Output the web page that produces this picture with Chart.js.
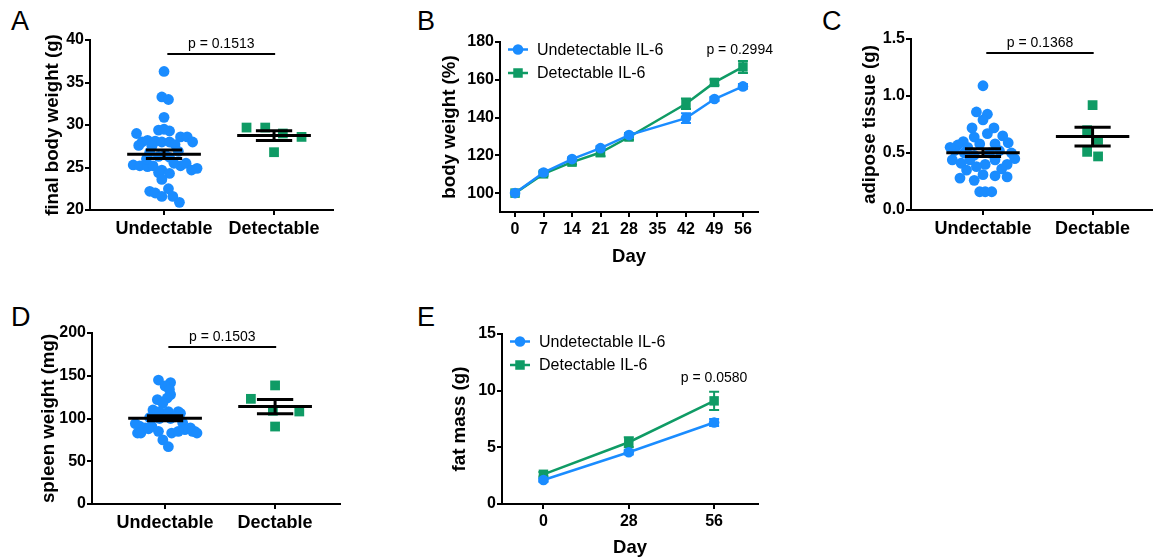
<!DOCTYPE html>
<html>
<head>
<meta charset="utf-8">
<script src="https://cdn.jsdelivr.net/npm/chart.js@4.4.0/dist/chart.umd.min.js"></script>
<style>
  body { margin: 0; background: #fff; width: 1159px; height: 559px; position: relative; overflow: hidden;
         font-family: 'Liberation Sans', Arial, sans-serif; }
  canvas { position: absolute; }
  .tag { position: absolute; font-size: 27px; line-height: 1; color: #000; }
</style>
</head>
<body>
<div class="tag" style="left:11px;top:8px">A</div>
<div class="tag" style="left:417px;top:8px">B</div>
<div class="tag" style="left:822px;top:8px">C</div>
<div class="tag" style="left:11px;top:304px">D</div>
<div class="tag" style="left:417px;top:304px">E</div>

<canvas id="chartA" width="299" height="230" style="left:42px;top:15px"></canvas>
<canvas id="chartB" width="335" height="253" style="left:439px;top:15px"></canvas>
<canvas id="chartC" width="300" height="230" style="left:859px;top:15px"></canvas>
<canvas id="chartD" width="310" height="234" style="left:38px;top:305px"></canvas>
<canvas id="chartE" width="320" height="254" style="left:449px;top:305px"></canvas>

<script>
const FONT = "'Liberation Sans', Arial, sans-serif";
const BLUE = '#1a8cff';
const GREEN = '#0f9b65';

// A - final body weight (g)
const groupsA = ['Undectable', 'Detectable'];
const weightUndet = [36.3, 33.3, 33.0, 30.9, 29.0, 29.4, 29.3, 29.5, 28.0, 28.2, 28.1, 28.0, 28.0, 28.6, 28.6,
  28.0, 27.6, 27.5, 27.7, 26.8, 26.5, 26.9, 26.3, 26.2, 25.3, 25.2, 25.1, 25.2, 25.2, 25.5, 24.7, 24.9,
  24.7, 24.3, 25.5, 24.4, 23.6, 22.2, 22.0, 22.5, 21.6, 21.6, 20.9, 26.0];
const weightUndetJitter = [0, -0.02, 0.04, 0, -0.25, -0.05, 0.05, 0, -0.2, -0.15, -0.08, -0.02, 0.05, 0.15, 0.21,
  0.26, -0.23, -0.11, 0.1, -0.13, 0.01, 0.13, -0.05, 0.05, -0.28, -0.22, -0.15, -0.1, 0.15, 0.2, 0.25, 0.3,
  -0.02, 0.05, 0.09, -0.05, -0.02, -0.13, -0.08, 0.04, -0.02, 0.08, 0.14, -0.16];
const weightDet = [29.7, 29.7, 29.0, 28.6, 26.8];
const weightDetJitter = [-0.25, -0.08, 0.08, 0.25, 0];
const weightMean = [26.55, 28.76];
const weightSem = [0.5, 0.57];
const weightTicks = [20, 25, 30, 35, 40];

// B - body weight (%) over time
const bwDays = [0, 7, 14, 21, 28, 42, 49, 56];
const bwDayTicks = [0, 7, 14, 21, 28, 35, 42, 49, 56];
const bwUndet = [100, 110.9, 118.0, 123.8, 130.7, 139.7, 149.8, 156.5];
const bwDet = [100, 110.2, 116.4, 121.5, 129.7, 147.3, 158.6, 166.8];
const bwUndetSem = [0, 0.8, 0.9, 1.0, 1.0, 2.6, 1.1, 1.2];
const bwDetSem = [0, 1.0, 1.2, 2.0, 1.5, 2.8, 1.5, 3.2];
const bwTicks = [100, 120, 140, 160, 180];

// C - adipose tissue (g)
const groupsC = ['Undectable', 'Dectable'];
const adiposeUndet = [1.09, 0.86, 0.84, 0.79, 0.72, 0.72, 0.67, 0.65, 0.64, 0.60, 0.57, 0.59, 0.55, 0.58, 0.58,
  0.44, 0.41, 0.45, 0.40, 0.35, 0.36, 0.28, 0.26, 0.31, 0.30, 0.29, 0.16, 0.16, 0.16,
  0.52, 0.48, 0.50, 0.52, 0.44, 0.40, 0.44, 0.50, 0.38, 0.50, 0.55];
const adiposeUndetJitter = [0, -0.06, 0.04, 0, -0.1, 0.1, 0.04, 0.18, -0.08, -0.18, -0.23, 0.23, -0.14, -0.03, 0.11,
  -0.28, -0.2, 0.29, 0.22, -0.15, 0.17, -0.21, -0.08, 0, 0.11, 0.22, -0.03, 0.02, 0.08,
  -0.26, -0.08, 0.06, 0.15, -0.12, 0.02, 0.11, -0.17, -0.06, 0.26, -0.3];
const adiposeDet = [0.92, 0.70, 0.615, 0.51, 0.47];
const adiposeDetJitter = [0, -0.05, 0.05, -0.05, 0.05];
const adiposeMean = [0.503, 0.644];
const adiposeSem = [0.034, 0.082];
const adiposeTicks = [0, 0.5, 1.0, 1.5];

// D - spleen weight (mg)
const spleenUndet = [145, 142, 138, 134, 128, 122, 124, 118, 110, 108, 108, 108, 106, 101, 100, 100, 102,
  94, 91, 89, 91, 95, 89, 85, 87, 83, 83, 85, 83, 85, 85, 83, 75, 67, 88];
const spleenUndetJitter = [-0.06, 0.05, 0, 0.04, 0.05, -0.07, 0.02, -0.02, -0.11, -0.05, 0.03, 0.12, 0.14, -0.14,
  0.05, -0.05, 0.09, -0.27, -0.23, -0.18, -0.12, 0.16, 0.23, 0.27, 0.18, -0.25, -0.22, -0.06, 0.06, 0.12,
  0.25, 0.29, -0.02, 0.03, -0.15];
const spleenDet = [138.7, 123, 109, 108.2, 90.6];
const spleenDetJitter = [0, -0.22, -0.02, 0.22, 0];
const spleenMean = [100.4, 113.9];
const spleenSem = [2.9, 8.3];
const spleenTicks = [0, 50, 100, 150, 200];

// E - fat mass (g)
const fatDays = [0, 28, 56];
const fatUndet = [2.12, 4.57, 7.19];
const fatDet = [2.62, 5.45, 9.1];
const fatUndetSem = [0.15, 0.2, 0.3];
const fatDetSem = [0.2, 0.45, 0.8];
const fatTicks = [0, 5, 10, 15];

const seriesLabels = ['Undetectable IL-6', 'Detectable IL-6'];

// mean/SEM bars, p-value brackets, error bars and legend
const extras = {
  id: 'extras',
  beforeDatasetsDraw(chart, args, o) {
    if (!o.errors) return;
    const {ctx, scales: {x, y}} = chart;
    ctx.save();
    ctx.lineWidth = 2;
    chart.data.datasets.forEach((ds, i) => {
      ctx.strokeStyle = ds.borderColor;
      ds.data.forEach((p, j) => {
        const e = o.errors[i][j];
        if (!e) return;
        const px = x.getPixelForValue(p.x);
        const hi = y.getPixelForValue(p.y + e), lo = y.getPixelForValue(p.y - e);
        ctx.beginPath();
        ctx.moveTo(px, hi); ctx.lineTo(px, lo);
        ctx.moveTo(px - 5, hi); ctx.lineTo(px + 5, hi);
        ctx.moveTo(px - 5, lo); ctx.lineTo(px + 5, lo);
        ctx.stroke();
      });
    });
    ctx.restore();
  },
  afterDatasetsDraw(chart, args, o) {
    const {ctx, scales: {x, y}, chartArea: a} = chart;
    ctx.save();
    ctx.strokeStyle = '#000';
    if (o.means) {
      ctx.lineWidth = 3;
      o.means.forEach((m, i) => {
        const c = i + 1, s = o.sems[i];
        const ym = y.getPixelForValue(m), yh = y.getPixelForValue(m + s), yl = y.getPixelForValue(m - s);
        ctx.beginPath();
        ctx.moveTo(x.getPixelForValue(c - 0.335), ym); ctx.lineTo(x.getPixelForValue(c + 0.335), ym);
        ctx.moveTo(x.getPixelForValue(c - 0.165), yh); ctx.lineTo(x.getPixelForValue(c + 0.165), yh);
        ctx.moveTo(x.getPixelForValue(c - 0.165), yl); ctx.lineTo(x.getPixelForValue(c + 0.165), yl);
        ctx.moveTo(x.getPixelForValue(c), yh); ctx.lineTo(x.getPixelForValue(c), yl);
        ctx.stroke();
      });
    }
    ctx.fillStyle = '#000';
    ctx.font = '14px ' + FONT;
    ctx.textAlign = 'center';
    ctx.textBaseline = 'middle';
    if (o.bracket) {
      const by = y.getPixelForValue(o.bracket.y);
      const x1 = x.getPixelForValue(1.03), x2 = x.getPixelForValue(2.01);
      ctx.lineWidth = 2;
      ctx.beginPath(); ctx.moveTo(x1, by); ctx.lineTo(x2, by); ctx.stroke();
      ctx.fillText(o.bracket.text, (x1 + x2) / 2, by - 10);
    }
    if (o.pLabel) {
      ctx.fillText(o.pLabel.text, x.getPixelForValue(o.pLabel.x), y.getPixelForValue(o.pLabel.y));
    }
    if (o.legend) {
      ctx.font = '16px ' + FONT;
      ctx.textAlign = 'left';
      chart.data.datasets.forEach((ds, i) => {
        const ly = a.top + 7.5 + i * 23.5, lx = a.left + 8;
        ctx.strokeStyle = ds.borderColor; ctx.fillStyle = ds.borderColor; ctx.lineWidth = 2.5;
        ctx.beginPath(); ctx.moveTo(lx, ly); ctx.lineTo(lx + 20, ly); ctx.stroke();
        ctx.beginPath();
        if (ds.pointStyle === 'rect') ctx.rect(lx + 5.25, ly - 4.75, 9.5, 9.5);
        else ctx.arc(lx + 10, ly, 5.3, 0, Math.PI * 2);
        ctx.fill();
        ctx.fillStyle = '#000';
        ctx.fillText(ds.label, lx + 29, ly + 1);
      });
    }
    ctx.restore();
  }
};

const axisLine = {
  border: {display: true, color: '#000', width: 2},
  grid: {drawOnChartArea: false, color: '#000', lineWidth: 2, tickLength: 5}
};

function yAxis(min, max, ticks, title, width, fmt) {
  return {
    type: 'linear', min, max, ...axisLine,
    afterBuildTicks: s => { s.ticks = ticks.map(v => ({value: v})); },
    afterFit: s => { s.width = width; },
    ticks: {color: '#000', padding: 1, font: {family: FONT, size: 16, weight: 'bold'}, callback: fmt || (v => v)},
    title: {display: true, text: title, color: '#000', padding: 0, font: {family: FONT, size: 18.7, weight: 'bold'}}
  };
}

function xAxis(min, max, ticks, height, fmt, size, title) {
  return {
    type: 'linear', min, max, ...axisLine,
    afterBuildTicks: s => { s.ticks = ticks.map(v => ({value: v})); },
    afterFit: s => { s.height = height; },
    ticks: {color: '#000', padding: 3, autoSkip: false, maxRotation: 0,
            font: {family: FONT, size: size, weight: 'bold'}, callback: fmt || (v => v)},
    title: {display: !!title, text: title || '', color: '#000', padding: 0,
            font: {family: FONT, size: 18.5, weight: 'bold'}}
  };
}

const pts = (vals, jit, cat) => vals.map((v, i) => ({x: cat + jit[i], y: v}));
const line = (days, vals) => days.map((d, i) => ({x: d, y: vals[i]}));

function scatterPanel(id, c) {
  new Chart(document.getElementById(id), {
    type: 'scatter',
    data: {datasets: [
      {data: pts(c.undet, c.undetJit, 1), pointBackgroundColor: BLUE, pointBorderWidth: 0,
       pointRadius: 5.4, pointStyle: 'circle'},
      {data: pts(c.det, c.detJit, 2), pointBackgroundColor: GREEN, pointBorderWidth: 0,
       pointRadius: 6.9, pointStyle: 'rect'}
    ]},
    options: {
      responsive: false, animation: false, events: [],
      layout: {padding: {top: c.padTop, right: c.padRight, left: 0, bottom: 0}},
      plugins: {legend: {display: false}, tooltip: {enabled: false},
        extras: {means: c.mean, sems: c.sem, bracket: {y: c.bracketY, text: c.p}}},
      scales: {
        x: xAxis(c.xMin, c.xMax, [1, 2], 35, v => c.groups[v - 1], 18),
        y: yAxis(c.yMin, c.yMax, c.yTicks, c.title, c.yWidth, c.fmt)
      }
    },
    plugins: [extras]
  });
}

function linePanel(id, c) {
  const ds = (label, days, vals, color, style, r) => ({
    label, data: line(days, vals), borderColor: color, backgroundColor: color,
    borderWidth: 2.5, pointBackgroundColor: color, pointBorderWidth: 0, pointRadius: r, pointStyle: style,
    showLine: true, fill: false, tension: 0
  });
  new Chart(document.getElementById(id), {
    type: 'scatter',
    data: {datasets: [
      ds(seriesLabels[0], c.days, c.undet, BLUE, 'circle', 5.3),
      ds(seriesLabels[1], c.days, c.det, GREEN, 'rect', 6.7)
    ]},
    options: {
      responsive: false, animation: false, events: [],
      layout: {padding: {top: c.padTop, right: c.padRight, left: 0, bottom: 0}},
      plugins: {legend: {display: false}, tooltip: {enabled: false},
        extras: {errors: [c.undetSem, c.detSem], legend: true, pLabel: c.pLabel}},
      scales: {
        x: xAxis(c.xMin, c.xMax, c.xTicks, c.xHeight, null, 16, 'Day'),
        y: yAxis(c.yMin, c.yMax, c.yTicks, c.title, c.yWidth)
      }
    },
    plugins: [extras]
  });
}

scatterPanel('chartA', {
  groups: groupsA, undet: weightUndet, undetJit: weightUndetJitter, det: weightDet, detJit: weightDetJitter,
  mean: weightMean, sem: weightSem, bracketY: 38.35, p: 'p = 0.1513',
  xMin: 0.327, xMax: 2.536, yMin: 20, yMax: 40, yTicks: weightTicks, title: 'final body weight (g)',
  yWidth: 48, padTop: 25, padRight: 8
});

linePanel('chartB', {
  days: bwDays, undet: bwUndet, det: bwDet, undetSem: bwUndetSem, detSem: bwDetSem,
  pLabel: {text: 'p = 0.2994', x: 55.2, y: 175.6},
  xMin: -3.7, xMax: 59.7, xTicks: bwDayTicks, xHeight: 56,
  yMin: 90, yMax: 180, yTicks: bwTicks, title: 'body weight (%)', yWidth: 61, padTop: 27, padRight: 16
});

scatterPanel('chartC', {
  groups: groupsC, undet: adiposeUndet, undetJit: adiposeUndetJitter, det: adiposeDet, detJit: adiposeDetJitter,
  mean: adiposeMean, sem: adiposeSem, bracketY: 1.377, p: 'p = 0.1368',
  xMin: 0.343, xMax: 2.543, yMin: 0, yMax: 1.5, yTicks: adiposeTicks, title: 'adipose tissue (g)',
  yWidth: 52, padTop: 24, padRight: 6, fmt: v => v.toFixed(1)
});

scatterPanel('chartD', {
  groups: groupsC, undet: spleenUndet, undetJit: spleenUndetJitter, det: spleenDet, detJit: spleenDetJitter,
  mean: spleenMean, sem: spleenSem, bracketY: 183.6, p: 'p = 0.1503',
  xMin: 0.336, xMax: 2.59, yMin: 0, yMax: 200, yTicks: spleenTicks, title: 'spleen weight (mg)',
  yWidth: 54, padTop: 28, padRight: 8
});

linePanel('chartE', {
  days: fatDays, undet: fatUndet, det: fatDet, undetSem: fatUndetSem, detSem: fatDetSem,
  pLabel: {text: 'p = 0.0580', x: 56, y: 11.1},
  xMin: -13.6, xMax: 70.4, xTicks: fatDays, xHeight: 55,
  yMin: 0, yMax: 15, yTicks: fatTicks, title: 'fat mass (g)', yWidth: 53, padTop: 29, padRight: 11
});
</script>
</body>
</html>
